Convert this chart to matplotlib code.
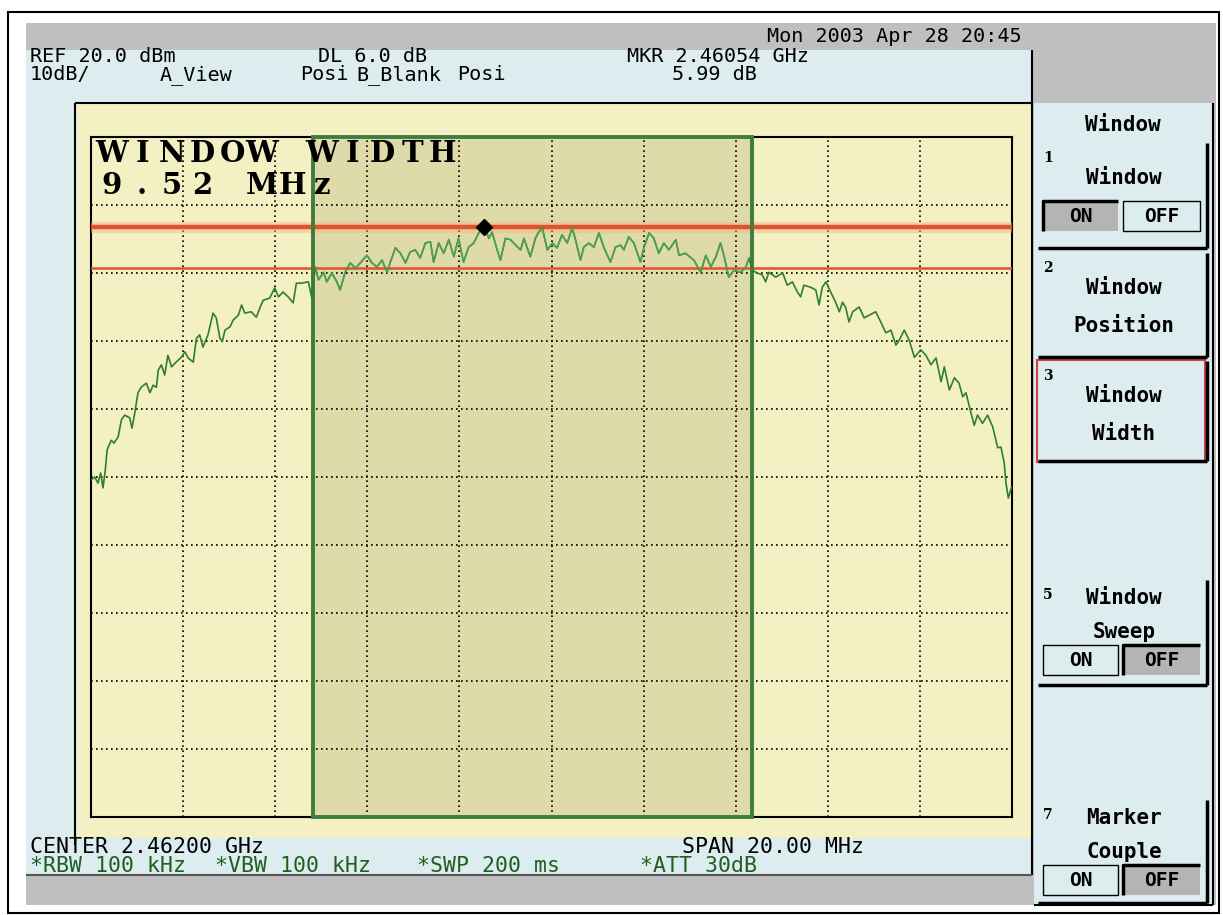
import matplotlib
matplotlib.use("Agg")
import matplotlib.pyplot as plt
from matplotlib.patches import Rectangle
import numpy as np

# analyzer settings shown on screen
start_ghz = 2.452
span_mhz = 20.0
ref_dbm = 20.0
db_per_div = 10.0
n_div = 10
win_start_mhz = 4.83        # window left edge, offset from start freq
win_width_mhz = 9.52
upper_dbm = 6.8             # display line at marker level
dl_db = 6.0
mkr_ghz = 2.46054
mkr_dbm = 6.8

# trace: offset from start (MHz) and level (dBm)
trace_mhz = [0.01, 0.08, 0.15, 0.21, 0.26, 0.31, 0.35, 0.44, 0.50, 0.59,
             0.66, 0.73, 0.84, 0.89, 0.95, 1.02, 1.09, 1.20, 1.28, 1.35,
             1.42, 1.46, 1.53, 1.60, 1.67, 1.75, 1.85, 1.96, 2.04, 2.11,
             2.22, 2.29, 2.36, 2.43, 2.54, 2.65, 2.72, 2.80, 2.85, 2.91,
             3.02, 3.09, 3.20, 3.27, 3.34, 3.48, 3.59, 3.67, 3.74, 3.88,
             3.99, 4.07, 4.17, 4.28, 4.39, 4.46, 4.57, 4.72, 4.79, 4.87,
             4.94, 5.05, 5.12, 5.23, 5.34, 5.41, 5.52, 5.63, 5.74, 5.85,
             5.99, 6.10, 6.21, 6.32, 6.43, 6.50, 6.61, 6.72, 6.83, 6.93,
             7.04, 7.15, 7.26, 7.37, 7.44, 7.55, 7.66, 7.77, 7.88, 7.98,
             8.09, 8.20, 8.31, 8.42, 8.54, 8.64, 8.71, 8.82, 8.89, 9.00,
             9.11, 9.22, 9.33, 9.40, 9.54, 9.65, 9.72, 9.80, 9.91, 10.02,
             10.12, 10.23, 10.34, 10.45, 10.52, 10.63, 10.70, 10.81, 10.92, 11.03,
             11.14, 11.28, 11.39, 11.50, 11.57, 11.68, 11.79, 11.93, 12.01, 12.12,
             12.22, 12.33, 12.44, 12.55, 12.70, 12.77, 12.91, 13.09, 13.24, 13.35,
             13.46, 13.57, 13.67, 13.75, 13.85, 13.96, 14.11, 14.22, 14.29, 14.36,
             14.47, 14.58, 14.65, 14.72, 14.87, 15.02, 15.12, 15.23, 15.34, 15.41,
             15.48, 15.63, 15.74, 15.81, 15.88, 15.96, 16.07, 16.17, 16.25, 16.32,
             16.39, 16.46, 16.54, 16.68, 16.79, 16.90, 17.04, 17.15, 17.26, 17.37,
             17.48, 17.55, 17.66, 17.77, 17.88, 18.02, 18.13, 18.24, 18.35, 18.46,
             18.53, 18.64, 18.75, 18.85, 18.93, 19.00, 19.11, 19.18, 19.25, 19.36,
             19.47, 19.58, 19.69, 19.76, 19.83, 19.87, 19.92, 19.99]
trace_dbm = [-30.4, -30.0, -30.9, -29.4, -31.6, -29.0, -26.0, -24.6, -25.0, -24.1,
             -21.6, -20.9, -21.3, -22.8, -20.6, -17.6, -16.8, -16.2, -17.6, -16.5,
             -16.8, -14.3, -13.5, -15.0, -12.1, -13.8, -13.1, -12.4, -11.6, -12.5,
             -13.1, -9.6, -9.1, -10.9, -9.1, -5.9, -6.6, -9.6, -10.1, -8.4,
             -7.9, -6.9, -6.2, -4.7, -5.9, -5.7, -6.5, -5.1, -4.0, -3.7,
             -2.2, -3.5, -2.8, -3.5, -4.4, -1.5, -1.5, -1.3, -3.5, 0.9,
             -1.0, 0.1, -1.3, 0.0, -1.3, -2.5, 0.1, 1.5, 0.7, 1.5,
             2.6, 1.5, 0.9, 1.9, 0.1, 1.6, 3.7, 2.9, 1.5, 3.1,
             3.4, 2.2, 4.4, 4.6, 1.6, 4.4, 2.9, 4.9, 2.4, 5.1,
             1.6, 3.8, 4.4, 5.9, 6.8, 5.1, 6.0, 3.4, 1.9, 5.1,
             4.9, 4.1, 3.4, 5.1, 2.4, 5.1, 6.0, 6.6, 3.4, 4.4,
             3.7, 5.6, 4.4, 6.6, 4.9, 1.9, 3.8, 4.4, 3.8, 5.9,
             3.7, 1.6, 3.8, 4.1, 3.4, 5.3, 4.4, 1.6, 3.8, 5.9,
             5.1, 2.9, 4.4, 3.4, 4.9, 2.6, 2.9, 1.9, 0.1, 2.6,
             0.9, 2.4, 4.4, 2.4, -0.6, 0.4, 0.1, 0.9, 2.2, 0.4,
             0.0, -0.3, -1.3, 0.1, -0.6, 0.0, -1.8, -1.3, -2.8, -3.5,
             -1.8, -2.1, -2.5, -4.7, -2.1, -1.3, -2.9, -4.3, -5.7, -4.3,
             -5.1, -7.2, -5.7, -5.0, -6.6, -6.2, -5.7, -7.2, -8.8, -8.4,
             -10.6, -9.9, -8.4, -9.9, -12.4, -11.3, -12.1, -13.5, -12.5, -16.0,
             -13.8, -17.2, -15.4, -16.2, -18.2, -17.6, -20.6, -22.4, -20.9, -22.1,
             -20.9, -22.6, -25.7, -25.6, -27.9, -30.9, -33.1, -31.5]

# screen texts
header_date = "Mon 2003 Apr 28 20:45"
header_row1 = [("REF 20.0 dBm", 30), ("DL 6.0 dB", 318), ("MKR 2.46054 GHz", 627)]
header_row2 = [("10dB/", 30), ("A_View", 160), ("Posi", 300), ("B_Blank", 356),
               ("Posi", 457), ("5.99 dB", 672)]
footer_row1 = [("CENTER 2.46200 GHz", 30), ("SPAN 20.00 MHz", 682)]
footer_row2 = [("*RBW 100 kHz", 30), ("*VBW 100 kHz", 215), ("*SWP 200 ms", 417),
               ("*ATT 30dB", 640)]

W, H = 1225, 915
GRAY = "#bfbfbf"
SCREEN = "#dcecef"
YELLOW = "#f3f0c3"
SHADE = "#dedaaa"
DKGREEN = "#2f7f2f"
LTGREEN = "#4ea44e"
RED = "#e2502c"
TXTGREEN = "#1f5f1f"
MONO = "DejaVu Sans Mono"

fig = plt.figure(figsize=(W / 100, H / 100), dpi=100)
fig.patch.set_facecolor("white")

# background layer in pixel units (y down)
bg = fig.add_axes([0, 0, 1, 1])
bg.set_xlim(0, W)
bg.set_ylim(H, 0)
bg.axis("off")


def box(x0, y0, x1, y1, **kw):
    bg.add_patch(Rectangle((x0, y0), x1 - x0, y1 - y0, **kw))


def line(xs, ys, **kw):
    bg.plot(xs, ys, solid_capstyle="butt", **kw)


box(8, 12, 1219, 913, fc="white", ec="black", lw=1.5)
box(26, 23, 1216, 905, fc=GRAY, ec="none")
box(26, 50, 1032, 875, fc=SCREEN, ec="none")
box(77, 104, 1031, 838, fc=YELLOW, ec="none")
line([75, 1032], [103, 103], color="black", lw=1.5)
line([75, 75], [103, 845], color="black", lw=1.5)
line([1032, 1032], [50, 875], color="black", lw=1.5)
line([26, 1032], [875, 875], color="#555555", lw=1.5)

# header / footer texts
fs = 14.5
bg.text(1022, 37, header_date, ha="right", va="center", family=MONO, fontsize=fs)
for s, x in header_row1:
    bg.text(x, 56, s, ha="left", va="center", family=MONO, fontsize=fs)
for s, x in header_row2:
    bg.text(x, 75, s, ha="left", va="center", family=MONO, fontsize=fs)
for s, x in footer_row1:
    bg.text(x, 847, s, ha="left", va="center", family=MONO, fontsize=15.5)
for s, x in footer_row2:
    bg.text(x, 866, s, ha="left", va="center", family=MONO, fontsize=15.5,
            color=TXTGREEN)

# soft-key menu on the right
box(1034, 103, 1213, 905, fc=SCREEN, ec="none")
line([1213, 1213], [103, 905], color="black", lw=1.5)
line([1034, 1213], [905, 905], color="black", lw=1.5)
bg.text(1123, 125, "Window", ha="center", va="center", family=MONO,
        fontsize=15, fontweight="bold")

# number, labels, top, bottom, lit toggle, toggle top
menu = [("1", ["Window"], 143, 248, "ON", 201),
        ("2", ["Window", "Position"], 253, 357, None, None),
        ("3", ["Window", "Width"], 361, 461, None, None),
        ("5", ["Window", "Sweep"], 580, 685, "OFF", 645),
        ("7", ["Marker", "Couple"], 800, 903, "OFF", 865)]
for num, labels, y0, y1, state, ty0 in menu:
    line([1038, 1207], [y1, y1], color="black", lw=2.5)
    line([1207, 1207], [y0, y1], color="black", lw=2.5)
    bg.text(1043, y0 + 15, num, ha="left", va="center", family="DejaVu Serif",
            fontsize=10, fontweight="bold")
    if state is None:
        rows = [y0 + 35 + 38 * k for k in range(len(labels))]
    elif len(labels) == 1:
        rows = [y0 + 35]
    else:
        rows = [y0 + 18 + 34 * k for k in range(len(labels))]
    for lab, yy in zip(labels, rows):
        bg.text(1124, yy, lab, ha="center", va="center", family=MONO,
                fontsize=15, fontweight="bold")
    if state is not None:
        ty1 = ty0 + 30
        for name, x0, x1 in [("ON", 1043, 1118), ("OFF", 1123, 1200)]:
            if name == state:
                box(x0, ty0, x1, ty1, fc="#b4b4b4", ec="none")
                line([x0, x0, x1], [ty1, ty0, ty0], color="black", lw=2.5)
            else:
                box(x0, ty0, x1, ty1, fc=SCREEN, ec="black", lw=1)
            bg.text((x0 + x1) / 2, (ty0 + ty1) / 2 + 1, name, ha="center",
                    va="center", family=MONO, fontsize=14, fontweight="bold")
# highlighted key
box(1037, 360, 1205, 462, fc="none", ec="#d04040", lw=1.5)

# graticule
ax = fig.add_axes([91 / W, 1 - 817 / H, 921 / W, 680 / H])
ax.set_facecolor("none")
stop_ghz = start_ghz + span_mhz / 1000
bottom_dbm = ref_dbm - n_div * db_per_div
ax.set_xlim(start_ghz, stop_ghz)
ax.set_ylim(bottom_dbm, ref_dbm)
ax.set_xticks(np.linspace(start_ghz, stop_ghz, n_div + 1))
ax.set_yticks(np.linspace(bottom_dbm, ref_dbm, n_div + 1))
ax.tick_params(length=0, labelbottom=False, labelleft=False)
ax.grid(True, color="black", linestyle=(0, (1, 2)), lw=1.2)
for sp in ax.spines.values():
    sp.set_linewidth(1.5)

ws = start_ghz + win_start_mhz / 1000
we = ws + win_width_mhz / 1000
ax.axvspan(ws, we, color=SHADE, zorder=0.5)
ax.add_patch(Rectangle((ws, bottom_dbm), we - ws, ref_dbm - bottom_dbm,
                       fc="none", ec="#3f7d3f", lw=2.8, zorder=4, clip_on=False))

# display lines
ax.axhline(upper_dbm, color="#f4b48a", lw=8, alpha=0.45, zorder=3)
ax.axhline(upper_dbm, color=RED, lw=3.2, zorder=3)
ax.axhline(upper_dbm - dl_db, color=RED, lw=1.8, zorder=3)

# trace
f = start_ghz + np.array(trace_mhz) / 1000
lv = np.array(trace_dbm)
ax.plot(f, lv, color=DKGREEN, lw=1.2, zorder=5)
inside = (f >= ws) & (f <= we)
ax.plot(f[inside], lv[inside], color=LTGREEN, lw=1.0, zorder=5)

# marker
ax.plot([mkr_ghz], [mkr_dbm], marker="D", color="black", ms=8, zorder=6)

# window width annotation, wide-spaced characters, on top of the graticule
for row, s in enumerate(["WINDOW WIDTH", "9.52 MHz"]):
    for i, ch in enumerate(s):
        ax.text(112 + 30 * i, 153 + 33 * row, ch, ha="center", va="center",
                family="DejaVu Serif", fontsize=21, fontweight="bold",
                transform=bg.transData, zorder=10, clip_on=False)

fig.savefig("out.png", dpi=100, facecolor="white")
